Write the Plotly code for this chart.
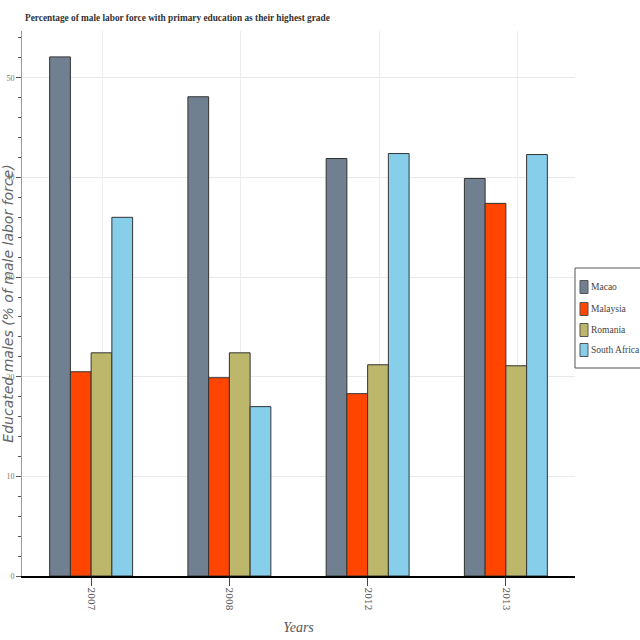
import plotly.graph_objects as go

years = ["2007", "2008", "2012", "2013"]
countries = ["Macao", "Malaysia", "Romania", "South Africa"]
macao = [52.1, 48.1, 41.9, 39.9]
malaysia = [20.5, 19.9, 18.3, 37.4]
romania = [22.4, 22.4, 21.2, 21.1]
south_africa = [36.0, 17.0, 42.4, 42.3]
series = [macao, malaysia, romania, south_africa]
colors = ["#708090", "#FF4500", "#BDB76B", "#87CEEB"]

W, H = 640, 640
ML, MR, MT, MB = 22, 65, 31, 64
PW, PH = W - ML - MR, H - MT - MB


def px_x(px):
    """window pixel x -> paper coordinate"""
    return (px - ML) / PW


def px_y(py):
    """window pixel y -> paper coordinate"""
    return (H - MB - py) / PH


fig = go.Figure()
for name, vals, col in zip(countries, series, colors):
    fig.add_trace(go.Bar(
        x=years, y=vals, name=name, showlegend=False,
        marker=dict(color=col, line=dict(color="#333333", width=1)),
    ))

# helper trace for the offset vertical grid
fig.add_trace(go.Scatter(x=[], y=[], xaxis="x2", showlegend=False, hoverinfo="skip"))

# compact legend box, like the reference
shapes = [dict(type="rect", xref="paper", yref="paper",
               x0=px_x(575), x1=px_x(660), y0=px_y(268), y1=px_y(368),
               line=dict(color="#555555", width=1), fillcolor="white", layer="above")]
annotations = []
row_y = [287, 309, 330, 350]
for name, col, ry in zip(countries, colors, row_y):
    shapes.append(dict(type="rect", xref="paper", yref="paper",
                       x0=px_x(580), x1=px_x(588), y0=px_y(ry + 6.5), y1=px_y(ry - 6.5),
                       line=dict(color="#555555", width=1), fillcolor=col, layer="above"))
    annotations.append(dict(xref="paper", yref="paper", x=px_x(589), y=px_y(ry),
                            xanchor="left", yanchor="middle", showarrow=False,
                            text=name,
                            font=dict(family="Liberation Serif", size=9.5, color="#444444")))

fig.update_layout(
    width=W, height=H,
    autosize=False,
    paper_bgcolor="white", plot_bgcolor="white",
    margin=dict(l=ML, r=MR, t=MT, b=MB, autoexpand=False),
    barmode="group", bargap=0.4, bargroupgap=0,
    showlegend=False,
    shapes=shapes,
    annotations=annotations,
    title=dict(
        text="<b>Percentage of male labor force with primary education as their highest grade</b>",
        x=25 / W, xanchor="left", y=1 - 18 / H, yanchor="middle",
        font=dict(family="Liberation Serif", size=9.3, color="#333333"),
    ),
    xaxis=dict(
        type="category",
        showgrid=False,
        showline=True, linecolor="black", linewidth=1.5,
        ticks="outside", ticklen=8, tickcolor="#444444",
        tickangle=90,
        tickfont=dict(family="DejaVu Serif", size=9, color="#555555"),
        title=dict(text="Years", standoff=12,
                   font=dict(family="Liberation Serif", size=14, color="#555555", style="italic")),
        range=[-0.5, 3.5],
    ),
    xaxis2=dict(
        overlaying="x", range=[-0.5, 3.5],
        tickvals=[i + 0.083 for i in range(len(years))],
        showticklabels=False, ticks="",
        showgrid=True, gridcolor="#ececec", gridwidth=1,
        showline=False, zeroline=False,
    ),
    yaxis=dict(
        range=[0, 54.7],
        dtick=10,
        showgrid=True, gridcolor="#e8e8e8",
        zeroline=False,
        showline=True, linecolor="#999999", linewidth=1,
        ticks="outside", ticklen=5, tickcolor="#555555",
        minor=dict(dtick=2, ticks="outside", ticklen=3, tickcolor="#555555", showgrid=False),
        tickfont=dict(family="Liberation Serif", size=8, color="#777777"),
        title=dict(text="Educated males (% of male labor force)", standoff=0,
                   font=dict(family="DejaVu Sans", size=14, color="#666666", style="italic")),
    ),
)

# remove the browser's default 8px body margin so the 640x640 figure fills the window
fig.write_html("out.html", config={"displayModeBar": False},
               post_script="document.body.style.margin='0px';")
